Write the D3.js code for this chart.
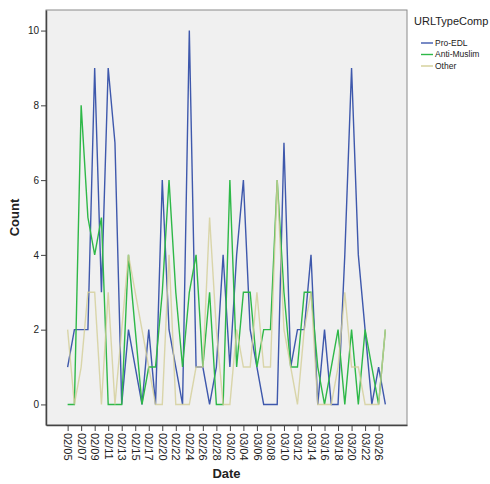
<!DOCTYPE html>
<html>
<head>
<meta charset="utf-8">
<script src="https://cdn.jsdelivr.net/npm/d3@7"></script>
<style>
  body { margin: 0; background: #fff; }
  text { font-family: "Liberation Sans", Arial, sans-serif; }
</style>
</head>
<body>
<div id="chart"></div>
<script>
// counts per day
const dates = [
  "02/05", "02/06", "02/07", "02/08", "02/09", "02/10", "02/11", "02/12",
  "02/13", "02/14", "02/15", "02/16", "02/17", "02/18", "02/20", "02/21",
  "02/22", "02/23", "02/24", "02/25", "02/26", "02/27", "02/28", "03/01",
  "03/02", "03/03", "03/04", "03/05", "03/06", "03/07", "03/08", "03/09",
  "03/10", "03/11", "03/12", "03/13", "03/14", "03/15", "03/16", "03/17",
  "03/18", "03/19", "03/20", "03/21", "03/22", "03/23", "03/26", "03/27"
];
const tickLabels = [
  "02/05", "02/07", "02/09", "02/11", "02/13", "02/15", "02/17", "02/20",
  "02/22", "02/24", "02/26", "02/28", "03/02", "03/04", "03/06", "03/08",
  "03/10", "03/12", "03/14", "03/16", "03/18", "03/20", "03/22", "03/26"
];
const proEDL = [1, 2, 2, 2, 9, 3, 9, 7, 0, 2, 1, 0, 2, 0, 6, 2,
                1, 0, 10, 1, 1, 0, 1, 4, 1, 4, 6, 2, 1, 0, 0, 0,
                7, 1, 2, 2, 4, 0, 2, 0, 0, 4, 9, 4, 2, 0, 1, 0];
const antiMuslim = [0, 0, 8, 5, 4, 5, 0, 0, 0, 4, 2, 0, 1, 1, 3, 6,
                    3, 1, 3, 4, 1, 3, 0, 0, 6, 1, 3, 3, 1, 2, 2, 6,
                    3, 1, 1, 3, 3, 1, 0, 1, 2, 0, 2, 0, 2, 1, 0, 2];
const other = [2, 0, 1, 3, 3, 0, 3, 0, 2, 4, 3, 2, 1, 0, 0, 4,
               0, 0, 0, 1, 1, 5, 2, 0, 0, 2, 1, 1, 3, 1, 1, 6,
               2, 1, 0, 2, 3, 0, 0, 0, 1, 3, 1, 1, 0, 0, 0, 2];
const seriesNames = ["Pro-EDL", "Anti-Muslim", "Other"];
const seriesColors = ["#3e58ac", "#2eb848", "#d3ce97"];

const width = 490, height = 484;
const plot = {left: 46, top: 10, right: 407, bottom: 425};

const svg = d3.select("#chart")
  .append("svg")
    .attr("width", width)
    .attr("height", height);

svg.append("rect")
  .attr("width", width)
  .attr("height", height)
  .attr("fill", "#fff");

const x = d3.scalePoint()
  .domain(dates)
  .range([plot.left, plot.right])
  .padding(3.2);

const y = d3.scaleLinear()
  .domain([-0.55, 10.55])
  .range([plot.bottom, plot.top]);

// plot background
svg.append("rect")
  .attr("x", plot.left)
  .attr("y", plot.top)
  .attr("width", plot.right - plot.left)
  .attr("height", plot.bottom - plot.top)
  .attr("fill", "#f0f0f0")
  .attr("stroke", "#8a8a8a")
  .attr("stroke-width", 1);

// axes
const xAxis = svg.append("g")
  .attr("transform", `translate(0, ${plot.bottom})`)
  .call(d3.axisBottom(x).tickValues(tickLabels).tickSize(6).tickSizeOuter(0));
xAxis.select(".domain").attr("stroke", "#444").attr("stroke-width", 1.5);
xAxis.selectAll(".tick line").attr("stroke", "#444");
xAxis.selectAll("text")
  .attr("transform", "rotate(90)")
  .attr("text-anchor", "start")
  .attr("x", 8)
  .attr("y", 0)
  .attr("dy", "0.35em")
  .style("font-size", "11px")
  .attr("fill", "#222");

const yAxis = svg.append("g")
  .attr("transform", `translate(${plot.left}, 0)`)
  .call(d3.axisLeft(y).tickValues([0, 2, 4, 6, 8, 10]).tickSize(5).tickSizeOuter(0));
yAxis.select(".domain").attr("stroke", "#444").attr("stroke-width", 1.5);
yAxis.selectAll(".tick line").attr("stroke", "#444");
yAxis.selectAll("text")
  .attr("x", -7)
  .style("font-size", "10px")
  .attr("fill", "#222");

// axis titles
svg.append("text")
  .attr("x", (plot.left + plot.right) / 2)
  .attr("y", 478)
  .attr("text-anchor", "middle")
  .style("font-size", "13px")
  .style("font-weight", "bold")
  .attr("fill", "#222")
  .text("Date");

svg.append("text")
  .attr("transform", `translate(19, ${(plot.top + plot.bottom) / 2}) rotate(-90)`)
  .attr("text-anchor", "middle")
  .style("font-size", "13px")
  .style("font-weight", "bold")
  .attr("fill", "#222")
  .text("Count");

// lines
const series = [proEDL, antiMuslim, other];
const line = d3.line()
  .x((d, i) => x(dates[i]))
  .y(d => y(d));

series.forEach((values, k) => {
  svg.append("path")
    .datum(values)
    .attr("fill", "none")
    .attr("stroke", seriesColors[k])
    .attr("stroke-width", 1.4)
    .attr("stroke-opacity", k === 2 ? 0.8 : 1)
    .attr("stroke-linejoin", "miter")
    .attr("d", line);
});

// legend
const legend = svg.append("g")
  .attr("transform", "translate(414, 0)");

legend.append("text")
  .attr("x", 0)
  .attr("y", 25)
  .style("font-size", "11px")
  .attr("fill", "#222")
  .text("URLTypeComp");

const items = legend.selectAll(".item")
  .data(seriesNames)
  .enter()
  .append("g")
    .attr("class", "item")
    .attr("transform", (d, i) => `translate(0, ${43 + i * 11.5})`);

items.append("line")
  .attr("x1", 7)
  .attr("x2", 19)
  .attr("stroke", (d, i) => seriesColors[i])
  .attr("stroke-width", 1.4);

items.append("text")
  .attr("x", 21)
  .attr("dy", "0.35em")
  .style("font-size", "8.5px")
  .attr("fill", "#222")
  .text(d => d);
</script>
</body>
</html>
